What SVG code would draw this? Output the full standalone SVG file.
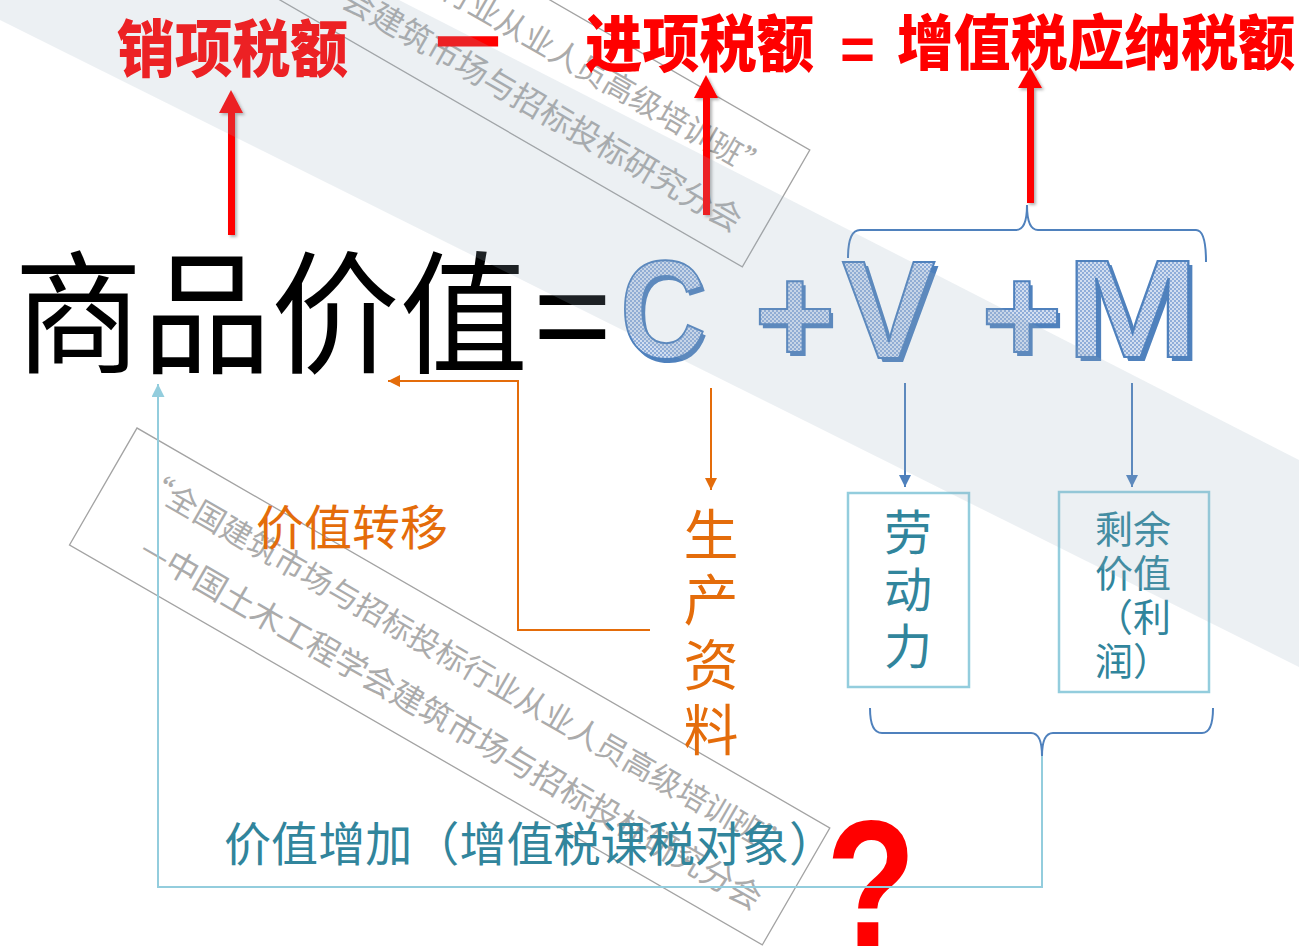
<svg xmlns="http://www.w3.org/2000/svg" width="1299" height="950" viewBox="0 0 1299 950">
<style>
.red{font-family:'Noto Sans CJK SC',sans-serif;font-weight:900;fill:#ff0000}
.cvm{font-family:'Liberation Sans',Arial,sans-serif;font-weight:700;font-size:140px}
.sh{fill:#4f81bd}
.fg{fill:url(#dots);stroke:#4f81bd;stroke-width:2}
.cjk{font-family:'Noto Sans CJK SC',sans-serif}
.teal{fill:#31859c}
.orange{fill:#e46c0a}
.box{fill:none;stroke:#93cddd;stroke-width:2.5}
.wm rect{fill:none;stroke:#a3a3a3;stroke-width:1.3}
.wm text{font-family:'Noto Sans CJK SC',sans-serif;font-size:31px;fill:#ababab}
.wm .l2{font-size:32.5px}
.conn{fill:none;stroke-width:2}
</style>
<defs>
<pattern id="dots" width="4" height="4" patternUnits="userSpaceOnUse">
<rect width="4" height="4" fill="#8fadd9"/>
<rect width="2" height="2" fill="#d2def0"/>
<rect x="2" y="2" width="2" height="2" fill="#d2def0"/>
</pattern>
<filter id="shadow" x="-50%" y="-10%" width="200%" height="130%">
<feDropShadow dx="2" dy="2" stdDeviation="1.5" flood-color="#000" flood-opacity="0.3"/>
</filter>
<marker id="arrO" viewBox="0 0 10 10" refX="10" refY="5" markerWidth="14" markerHeight="12" markerUnits="userSpaceOnUse" orient="auto"><path d="M0,0 L10,5 L0,10 z" fill="#e46c0a"/></marker>
<marker id="arrB" viewBox="0 0 10 10" refX="10" refY="5" markerWidth="15" markerHeight="12" markerUnits="userSpaceOnUse" orient="auto"><path d="M0,0 L10,5 L0,10 z" fill="#4f81bd"/></marker>
<marker id="arrL" viewBox="0 0 10 10" refX="10" refY="5" markerWidth="15" markerHeight="13" markerUnits="userSpaceOnUse" orient="auto"><path d="M0,0 L10,5 L0,10 z" fill="#93cddd"/></marker>
</defs>
<rect width="1299" height="950" fill="#ffffff"/>

<!-- watermarks -->
<g class="wm" transform="translate(117,-250) rotate(30)">
<rect x="0" y="0" width="800" height="135"/>
<text x="30" y="52">“全国建筑市场与招标投标行业从业人员高级培训班”</text>
<text class="l2" x="64" y="110">—中国土木工程学会建筑市场与招标投标研究分会</text>
</g>
<g class="wm" transform="translate(137,428) rotate(30)">
<rect x="0" y="0" width="800" height="135"/>
<text x="30" y="52">“全国建筑市场与招标投标行业从业人员高级培训班”</text>
<text class="l2" x="64" y="110">—中国土木工程学会建筑市场与招标投标研究分会</text>
</g>

<!-- top formula -->
<g id="title-sales"><text class="red" x="117" y="72" font-size="62" textLength="231" lengthAdjust="spacingAndGlyphs">销项税额</text></g>
<g id="title-minus"><text class="red" x="436" y="60" font-size="64" stroke="#ff0000" stroke-width="3" textLength="64" lengthAdjust="spacingAndGlyphs">—</text></g>
<g id="title-input"><text class="red" x="585" y="67" font-size="62" textLength="229" lengthAdjust="spacingAndGlyphs">进项税额</text></g>
<g id="title-equals"><text x="840" y="69" font-family="'Liberation Sans',Arial,sans-serif" font-weight="700" font-size="60" fill="#ff0000">=</text></g>
<g id="title-vat"><text class="red" x="897" y="65" font-size="60" textLength="398" lengthAdjust="spacingAndGlyphs">增值税应纳税额</text></g>

<!-- main formula -->
<g id="formula">
<text class="cjk" x="14" y="363" font-size="133" fill="#000" textLength="514" lengthAdjust="spacingAndGlyphs">商品价值</text>
<text x="533" y="362" font-family="'Liberation Sans',Arial,sans-serif" font-size="135" fill="#000">=</text>
</g>
<g id="letter-C">
<text class="cvm sh" x="623" y="362" textLength="86" lengthAdjust="spacingAndGlyphs">C</text>
<text class="cvm fg" x="620" y="358" textLength="86" lengthAdjust="spacingAndGlyphs">C</text>
</g>
<g id="plus-1">
<text class="cvm sh" x="757" y="367">+</text>
<text class="cvm fg" x="754" y="363">+</text>
</g>
<g id="letter-V">
<text class="cvm sh" x="846" y="362">V</text>
<text class="cvm fg" x="842" y="358">V</text>
</g>
<g id="plus-2">
<text class="cvm sh" x="984" y="367">+</text>
<text class="cvm fg" x="981" y="363">+</text>
</g>
<g id="letter-M">
<text class="cvm sh" x="1070" y="361" textLength="133" lengthAdjust="spacingAndGlyphs">M</text>
<text class="cvm fg" x="1066" y="357" textLength="133" lengthAdjust="spacingAndGlyphs">M</text>
</g>

<!-- boxes -->
<g id="box-labor">
<rect class="box" x="848" y="493" width="121" height="194"/>
<g class="cjk teal" font-size="48" text-anchor="middle">
<text x="908" y="550">劳</text>
<text x="908" y="607">动</text>
<text x="908" y="664">力</text>
</g>
</g>
<g id="box-surplus">
<rect class="box" x="1059" y="492" width="150" height="200"/>
<g class="cjk teal" font-size="38" text-anchor="middle">
<text x="1133" y="543">剩余</text>
<text x="1133" y="587">价值</text>
<text x="1133" y="631">（利</text>
<text x="1133" y="675">润）</text>
</g>
</g>

<!-- labels -->
<g id="label-transfer"><text class="cjk orange" x="256" y="545" font-size="48" textLength="192" lengthAdjust="spacingAndGlyphs">价值转移</text></g>
<g id="label-means" class="cjk orange" font-size="55" text-anchor="middle">
<text x="711" y="555">生</text>
<text x="711" y="620">产</text>
<text x="711" y="685">资</text>
<text x="711" y="750">料</text>
</g>
<g id="label-added"><text class="cjk teal" x="224" y="861" font-size="47" textLength="612" lengthAdjust="spacingAndGlyphs">价值增加（增值税课税对象）</text></g>
<g id="question"><text x="826" y="946" font-family="'Liberation Sans',Arial,sans-serif" font-weight="700" font-size="180" fill="#ff0000" textLength="90" lengthAdjust="spacingAndGlyphs">?</text></g>

<!-- connectors -->
<g id="connectors">
<g filter="url(#shadow)" fill="#ff0000">
<rect x="228" y="112" width="7" height="123"/>
<polygon points="219,113 243,113 231,90"/>
<rect x="703" y="97" width="7" height="118"/>
<polygon points="694,98 718,98 706,75"/>
<rect x="1027" y="87" width="7" height="116"/>
<polygon points="1018,88 1042,88 1030,67"/>
</g>
<path class="conn" stroke="#4f81bd" d="M848 258 Q848 230 860 230 L1016 230 Q1027 230 1027 205 Q1027 230 1038 230 L1196 230 Q1206 230 1206 262"/>
<path class="conn" stroke="#4f81bd" d="M870 708 Q870 733 882 733 L1031 733 Q1042 733 1042 756 Q1042 733 1053 733 L1202 733 Q1213 733 1213 708"/>
<path class="conn" stroke="#93cddd" d="M1042 756 V887 H158 V384" marker-end="url(#arrL)"/>
<path class="conn" stroke="#e46c0a" d="M650 630 H518 V381 H388" marker-end="url(#arrO)"/>
<path class="conn" stroke="#e46c0a" d="M711 388 V490" marker-end="url(#arrO)"/>
<path class="conn" stroke="#4f81bd" d="M905 383 V487" marker-end="url(#arrB)"/>
<path class="conn" stroke="#4f81bd" d="M1132 383 V487" marker-end="url(#arrB)"/>
</g>

<!-- diagonal translucent band -->
<polygon points="0,0 399,0 1299,460 1299,667 0,20" fill="#9cb0bf" fill-opacity="0.19"/>
</svg>
